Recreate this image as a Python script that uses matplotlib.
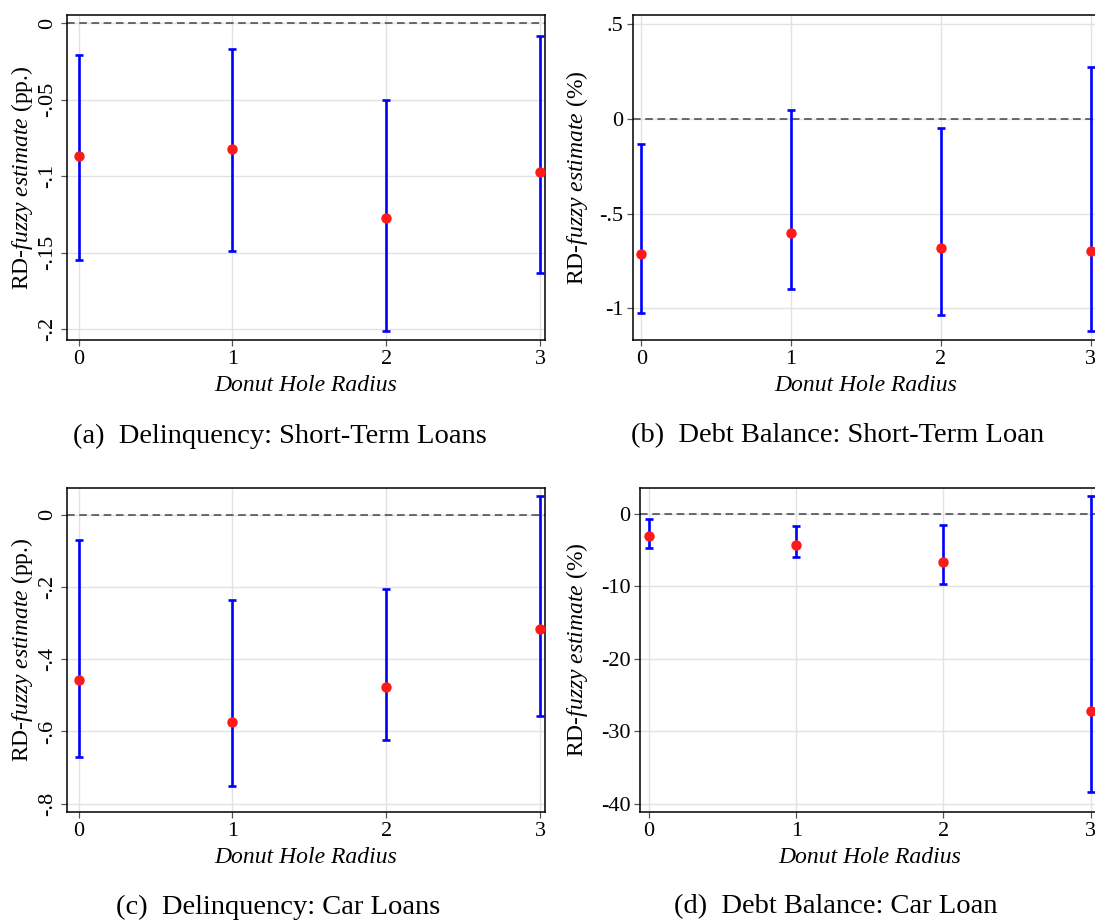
import matplotlib
matplotlib.use("Agg")
import matplotlib.pyplot as plt

plt.rcParams["font.family"] = ["Liberation Serif", "DejaVu Serif"]
plt.rcParams["mathtext.fontset"] = "custom"
plt.rcParams["mathtext.rm"] = "Liberation Serif"
plt.rcParams["mathtext.it"] = "Liberation Serif:italic"

# Donut hole radius on the x axis
radius = [0, 1, 2, 3]

# (a) delinquency, short-term loans (pp.)
delinq_short_est = [-0.087, -0.082, -0.127, -0.097]
delinq_short_lo = [-0.155, -0.149, -0.201, -0.163]
delinq_short_hi = [-0.021, -0.017, -0.050, -0.008]

# (b) debt balance, short-term loan (%)
debt_short_est = [-0.716, -0.602, -0.681, -0.696]
debt_short_lo = [-1.023, -0.898, -1.033, -1.119]
debt_short_hi = [-0.135, 0.047, -0.049, 0.274]

# (c) delinquency, car loans (pp.)
delinq_car_est = [-0.458, -0.575, -0.476, -0.315]
delinq_car_lo = [-0.671, -0.751, -0.625, -0.556]
delinq_car_hi = [-0.069, -0.237, -0.205, 0.053]

# (d) debt balance, car loan (%)
debt_car_est = [-3.0, -4.3, -6.6, -27.2]
debt_car_lo = [-4.7, -6.0, -9.7, -38.4]
debt_car_hi = [-0.7, -1.7, -1.5, 2.5]

# tick values and their labels
ticks_a = [0, -0.05, -0.1, -0.15, -0.2]
labels_a = ["0", "-.05", "-.1", "-.15", "-.2"]
ticks_b = [0.5, 0, -0.5, -1]
labels_b = [".5", "0", "-.5", "-1"]
ticks_c = [0, -0.2, -0.4, -0.6, -0.8]
labels_c = ["0", "-.2", "-.4", "-.6", "-.8"]
ticks_d = [0, -10, -20, -30, -40]
labels_d = ["0", "-10", "-20", "-30", "-40"]

captions = [
    "(a)  Delinquency: Short-Term Loans",
    "(b)  Debt Balance: Short-Term Loan",
    "(c)  Delinquency: Car Loans",
    "(d)  Debt Balance: Car Loan",
]
units = ["(pp.)", "(%)", "(pp.)", "(%)"]

W, H = 1095, 922
fig = plt.figure(figsize=(W / 100, H / 100), dpi=100)
fig.patch.set_facecolor("white")

panels = [
    dict(est=delinq_short_est, lo=delinq_short_lo, hi=delinq_short_hi,
         ticks=ticks_a, labels=labels_a, rot=90, ylim=(-0.207, 0.0054),
         box=(67, 15, 545, 340), xlim=(-0.075, 3.03), ylab_x=22, cap_x=280,
         xlab_y=385, cap_y=436),
    dict(est=debt_short_est, lo=debt_short_lo, hi=debt_short_hi,
         ticks=ticks_b, labels=labels_b, rot=0, ylim=(-1.167, 0.547),
         box=(633, 15, 1099, 340), xlim=(-0.056, 3.056), ylab_x=577, cap_x=838,
         xlab_y=385, cap_y=436),
    dict(est=delinq_car_est, lo=delinq_car_lo, hi=delinq_car_hi,
         ticks=ticks_c, labels=labels_c, rot=90, ylim=(-0.823, 0.074),
         box=(67, 488, 545, 812), xlim=(-0.075, 3.03), ylab_x=22, cap_x=278,
         xlab_y=857, cap_y=907),
    dict(est=debt_car_est, lo=debt_car_lo, hi=debt_car_hi,
         ticks=ticks_d, labels=labels_d, rot=0, ylim=(-41.1, 3.55),
         box=(640, 488, 1099, 812), xlim=(-0.061, 3.056), ylab_x=577, cap_x=836,
         xlab_y=857, cap_y=907),
]

for p, cap, unit in zip(panels, captions, units):
    x0, y0, x1, y1 = p["box"]
    ax = fig.add_axes([x0 / W, 1 - y1 / H, (x1 - x0) / W, (y1 - y0) / H])
    ax.set_xlim(*p["xlim"])
    ax.set_ylim(*p["ylim"])

    ax.set_xticks(radius)
    ax.set_xticklabels([str(r) for r in radius], fontsize=16)
    ax.set_yticks(p["ticks"])
    if p["rot"] == 90:
        ax.set_yticklabels(p["labels"], fontsize=16, rotation=90, va="center")
    else:
        ax.set_yticklabels(p["labels"], fontsize=16)
    ax.tick_params(axis="both", direction="out", length=4, width=0.9,
                   color="#555555", pad=3)
    ax.grid(True, color="#e2e2e2", linewidth=1.0, zorder=0)
    ax.set_axisbelow(True)
    for s in ax.spines.values():
        s.set_color("black")
        s.set_linewidth(1.1)

    ax.axhline(0, color="#444444", linewidth=1.1, linestyle=(0, (5, 3)), zorder=1)

    est = p["est"]
    yerr = [[e - l for e, l in zip(est, p["lo"])],
            [h - e for e, h in zip(est, p["hi"])]]
    ax.errorbar(radius, est, yerr=yerr, fmt="none", ecolor="#0000ff",
                elinewidth=1.9, capsize=2.8, capthick=1.9, zorder=3)
    ax.plot(radius, est, "o", color="#ff1a1a", markersize=7.5, markeredgewidth=0,
            zorder=4)

    fig.text(((x0 + x1) / 2) / W, 1 - p["xlab_y"] / H, "Donut Hole Radius",
             fontsize=17, style="italic", ha="center", va="center")
    fig.text(p["ylab_x"] / W, 1 - ((y0 + y1) / 2) / H,
             r"RD-$\mathit{fuzzy\ estimate}$ " + unit, fontsize=17,
             rotation=90, ha="center", va="center")
    fig.text(p["cap_x"] / W, 1 - p["cap_y"] / H, cap, fontsize=20.5,
             ha="center", va="center")

fig.savefig("out.png", dpi=100, facecolor="white")
